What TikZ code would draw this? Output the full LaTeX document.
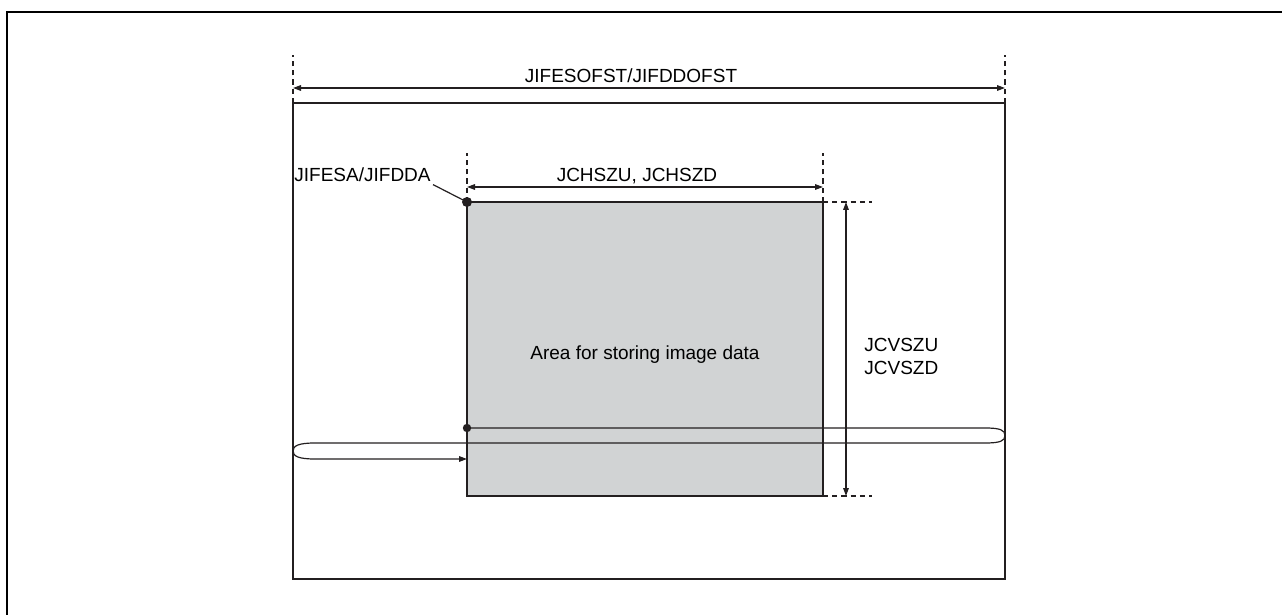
\documentclass[tikz,border=0pt]{standalone}
\usepackage{fontspec}
\setmainfont{Liberation Sans}
\usepackage{xcolor}
\usetikzlibrary{arrows.meta,positioning,calc}
\definecolor{areagray}{RGB}{209,211,212}
\definecolor{ink}{RGB}{35,31,32}
\tikzset{
  frameline/.style={draw=black, line width=0.9pt},
  membox/.style={draw=ink, line width=1.2pt, minimum width=356pt, minimum height=238pt,
                 inner sep=0pt, outer sep=0pt},
  areabox/.style={draw=ink, fill=areagray, line width=1.2pt, minimum width=178pt,
                  minimum height=147pt, inner sep=0pt, outer sep=0pt},
  txt/.style={inner sep=1pt, font=\fontsize{9.5}{11.5}\selectfont},
  guide/.style={draw=ink, line width=0.55pt, dash pattern=on 2.6pt off 2pt},
  dimarrow/.style={draw=ink, line width=0.6pt, {Triangle[length=4pt,width=2.8pt]}-{Triangle[length=4pt,width=2.8pt]}},
  loopline/.style={draw=ink, line width=0.6pt, -{Triangle[length=4pt,width=2.8pt]}}
}

\begin{document}
\begin{tikzpicture}[x=0.5pt,y=-0.5pt]
  \useasboundingbox (0,0) rectangle (1282,615);
  \draw[frameline] (7,620) |- (1290,12);

  \node[membox] (mem) at (649,341) {};
  \node[areabox] (area) at (645,349) {};
  \node[txt] (areatxt) at (645,355) {Area for storing image data};

  % overall offset width
  \draw[guide] (mem.north west) -- ++(0,-48);
  \draw[guide] (mem.north east) -- ++(0,-48);
  \coordinate (ofsl) at ([yshift=7.5pt]mem.north west);
  \coordinate (ofsr) at ([yshift=7.5pt]mem.north east);
  \draw[dimarrow] (ofsl) -- (ofsr);
  \node[txt, anchor=base] (ofstxt) at (631,83) {JIFESOFST/JIFDDOFST};

  % horizontal size
  \draw[guide] (area.north west) -- ++(0,-49);
  \draw[guide] (area.north east) -- ++(0,-49);
  \coordinate (hszl) at ([yshift=7.5pt]area.north west);
  \coordinate (hszr) at ([yshift=7.5pt]area.north east);
  \draw[dimarrow] (hszl) -- (hszr);
  \node[txt, anchor=base] (hsztxt) at (637,182) {JCHSZU, JCHSZD};

  % vertical size
  \draw[guide] (area.north east) -- ++(49,0);
  \draw[guide] (area.south east) -- ++(49,0);
  \coordinate (vszt) at ([xshift=11.5pt]area.north east);
  \coordinate (vszb) at ([xshift=11.5pt]area.south east);
  \draw[dimarrow] (vszt) -- (vszb);
  \node[txt, anchor=base west, align=left] (vsztxt) at (862,374) {JCVSZU\\JCVSZD};

  % start address
  \fill[ink] (area.north west) circle (2.5pt);
  \node[txt, anchor=base east] (adrtxt) at (433,182) {JIFESA/JIFDDA};
  \draw[ink, line width=0.6pt] (adrtxt.south east) -- (area.north west);

  % line offset
  \coordinate (lnst) at (area.west |- 0,428);
  \coordinate (lnen) at (area.west |- 0,459);
  \fill[ink] (lnst) circle (2.1pt);
  \draw[loopline] (lnst) -- (985,428)
    .. controls (1000,428) and (1005,430) .. (1005,435.5)
    .. controls (1005,441) and (1000,443) .. (985,443)
    -- (315,443)
    .. controls (298,443) and (293,446) .. (293,451)
    .. controls (293,456) and (298,459) .. (315,459)
    -- (lnen);
\end{tikzpicture}
\end{document}
